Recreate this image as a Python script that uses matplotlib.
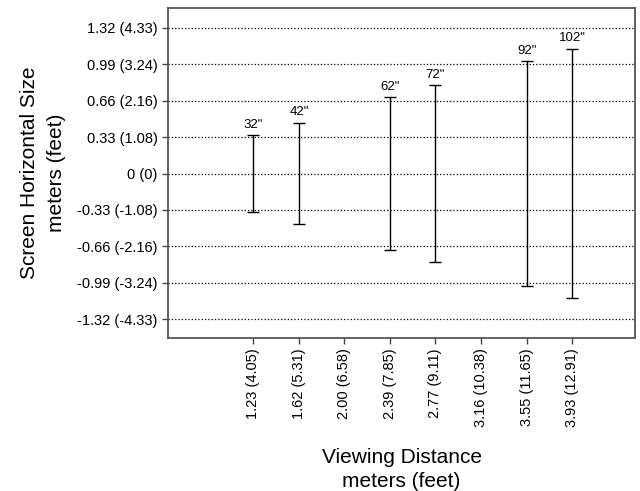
import matplotlib.pyplot as plt

plt.rcParams['font.family'] = ['Liberation Sans', 'DejaVu Sans']

# tick positions on the distance axis (meters) and their labels
dist_ticks = [1.23, 1.62, 2.00, 2.39, 2.77, 3.16, 3.55, 3.93]
dist_labels = ['1.23 (4.05)', '1.62 (5.31)', '2.00 (6.58)', '2.39 (7.85)',
               '2.77 (9.11)', '3.16 (10.38)', '3.55 (11.65)', '3.93 (12.91)']

size_ticks = [-1.32, -0.99, -0.66, -0.33, 0, 0.33, 0.66, 0.99, 1.32]
size_labels = ['-1.32 (-4.33)', '-0.99 (-3.24)', '-0.66 (-2.16)', '-0.33 (-1.08)',
               '0 (0)', '0.33 (1.08)', '0.66 (2.16)', '0.99 (3.24)', '1.32 (4.33)']

# screens: viewing distance (m), half of horizontal width (m)
screens = ['32"', '42"', '62"', '72"', '92"', '102"']
distance = [1.23, 1.62, 2.39, 2.77, 3.55, 3.93]
half_width = [0.35, 0.46, 0.69, 0.80, 1.02, 1.13]

fig = plt.figure(figsize=(6.4, 4.91), dpi=100)
ax = fig.add_axes([168/640, 1 - 338/491, (635-168)/640, (338-8)/491])

ax.errorbar(distance, [0]*len(distance), yerr=half_width, fmt='none',
            ecolor='black', elinewidth=1, capsize=4, capthick=1)

for name, x, h in zip(screens, distance, half_width):
    ax.text(x, h + 0.04, name, ha='center', va='bottom', fontsize=9.5)

ax.set_xlim(0.51, 4.46)
ax.set_ylim(-1.49, 1.50)
ax.set_xticks(dist_ticks)
ax.set_xticklabels(dist_labels, rotation=90, fontsize=10.5)
ax.set_yticks(size_ticks)
ax.set_yticklabels(size_labels, fontsize=10.5)
ax.yaxis.grid(True, linestyle=':', color='black', linewidth=0.9)
ax.set_axisbelow(True)
ax.tick_params(length=4, width=1, color='#444444')
for s in ax.spines.values():
    s.set_color('#555555')
    s.set_linewidth(1.3)

ax.set_ylabel('Screen Horizontal Size\nmeters (feet)', fontsize=15,
              labelpad=8, linespacing=1.5)
ax.set_xlabel('Viewing Distance\nmeters (feet)', fontsize=15,
              labelpad=15, linespacing=1.3)

plt.savefig('out.png', dpi=100)
